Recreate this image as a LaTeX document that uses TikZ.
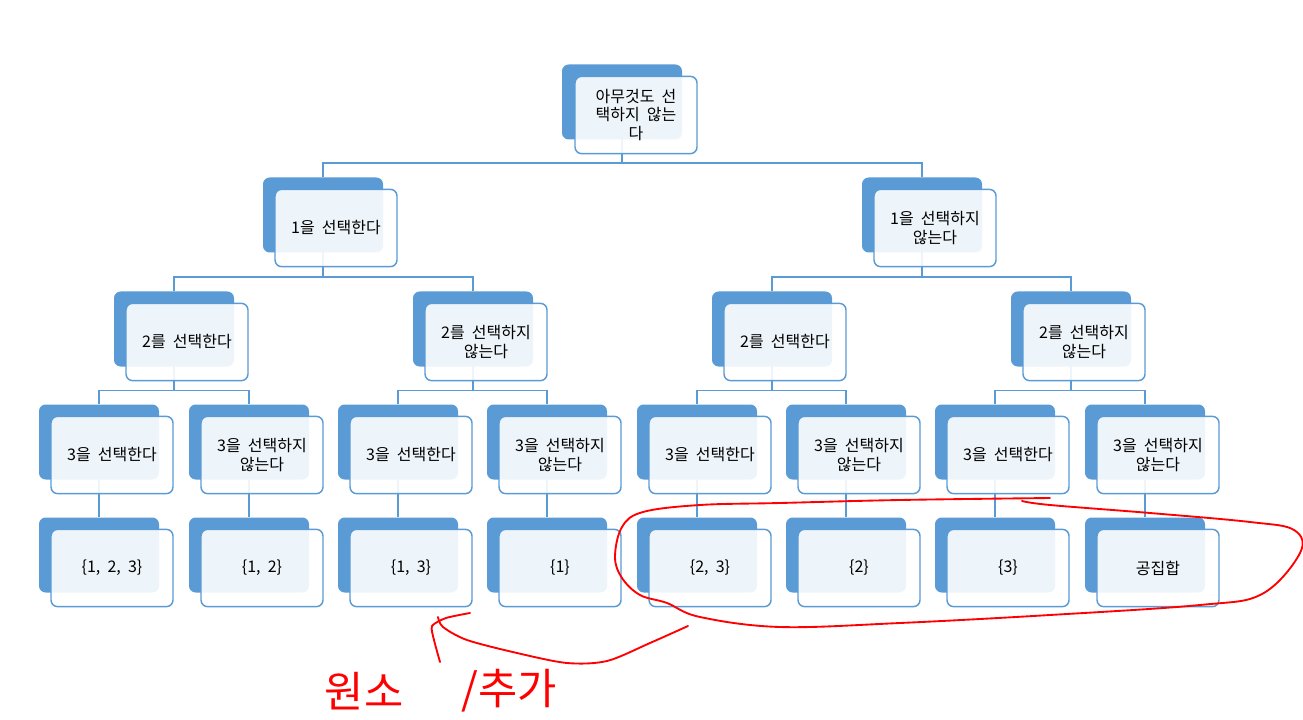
\documentclass[tikz,border=0pt]{standalone}
\usepackage{fontspec}
\setmainfont[WordSpace=2]{Noto Sans CJK KR}
\usetikzlibrary{backgrounds}
\definecolor{boxblue}{RGB}{91,155,213}
\definecolor{penred}{RGB}{255,0,0}

\begin{document}
\begin{tikzpicture}[x=0.75pt, y=-0.75pt,
        backbox/.style={fill=boxblue, rounded corners=5pt, minimum width=90pt, minimum height=56.25pt, inner sep=0pt},
        frontbox/.style={draw=boxblue, line width=1.1pt, fill=white, fill opacity=0.9, text opacity=1,
            rounded corners=5pt, minimum width=91.5pt, minimum height=58pt, inner sep=0pt, align=center,
            font=\fontsize{12}{14}\selectfont},
        link/.style={draw=boxblue, line width=1.1pt},
        pen/.style={draw=penred, line width=1.4pt, line cap=round, line join=round},
        hand/.style={text=penred, font=\fontsize{32}{32}\selectfont, inner sep=0pt}]
                \useasboundingbox (0,0) rectangle (1303,720);
                \node[backbox] (bkr) at (622,102) {};
                \node[frontbox] (r) at (636,115) {아무것도 선\\택하지 않는\\다};
                \foreach \n/\x/\t in {y/323/{1을 선택한다}, n/922/{1을 선택하지\\않는다}} {
                    \node[backbox] (bk\n) at (\x,215) {};
                    \node[frontbox] (\n) at (\x+13,228) {\t};
                }
                \foreach \n/\x/\t in {yy/174/{2를 선택한다}, yn/473/{2를 선택하지\\않는다},
                                      ny/772/{2를 선택한다}, nn/1071/{2를 선택하지\\않는다}} {
                    \node[backbox] (bk\n) at (\x,329) {};
                    \node[frontbox] (\n) at (\x+13,342) {\t};
                }
                \foreach \n/\x/\t in {yyy/99/{3을 선택한다}, yyn/249/{3을 선택하지\\않는다},
                                      yny/398/{3을 선택한다}, ynn/547/{3을 선택하지\\않는다},
                                      nyy/697/{3을 선택한다}, nyn/846/{3을 선택하지\\않는다},
                                      nny/995/{3을 선택한다}, nnn/1145/{3을 선택하지\\않는다}} {
                    \node[backbox] (bk\n) at (\x,442) {};
                    \node[frontbox] (\n) at (\x+13,455) {\t};
                }
                \foreach \n/\x/\t in {l123/99/{\{1, 2, 3\}}, l12/249/{\{1, 2\}}, l13/398/{\{1, 3\}}, l1/547/{\{1\}},
                                      l23/697/{\{2, 3\}}, l2/846/{\{2\}}, l3/995/{\{3\}}, l0/1145/{공집합}} {
                    \node[backbox] (bk\n) at (\x,555) {};
                    \node[frontbox] (\n) at (\x+13,568) {\t};
                }
                \begin{scope}[on background layer]
                    \foreach \p/\c in {r/y, r/n, y/yy, y/yn, n/ny, n/nn,
                                       yy/yyy, yy/yyn, yn/yny, yn/ynn, ny/nyy, ny/nyn, nn/nny, nn/nnn,
                                       yyy/l123, yyn/l12, yny/l13, ynn/l1, nyy/l23, nyn/l2, nny/l3, nnn/l0}
                        \draw[link] (bk\c.north) -- ++(0,-14) -| (bk\p.center);
                \end{scope}
%                red pen marks
                \draw[pen] plot[smooth, tension=0.6] coordinates {(1050,498) (900,500) (780,503) (700,505) (643,512)
                    (622,527) (615,557) (622,578) (640,595) (667,603) (700,617) (780,627) (900,623) (1050,615)
                    (1200,605) (1262,594) (1300,553) (1294,530) (1250,522) (1150,513) (1050,505) (1022,501)};
                \draw[pen] plot[smooth] coordinates {(688,626) (650,643) (607,661) (567,663) (517,653) (467,640) (443,627) (438,617)};
                \draw[pen] plot[smooth, tension=0.4] coordinates {(470,613) (446,618) (432,626) (434,640) (440,662)};
                \node[hand] (note1) at (364,691) {원소};
                \node[hand] (note2) at (509,691) {/추가};
            \end{tikzpicture}
\end{document}
